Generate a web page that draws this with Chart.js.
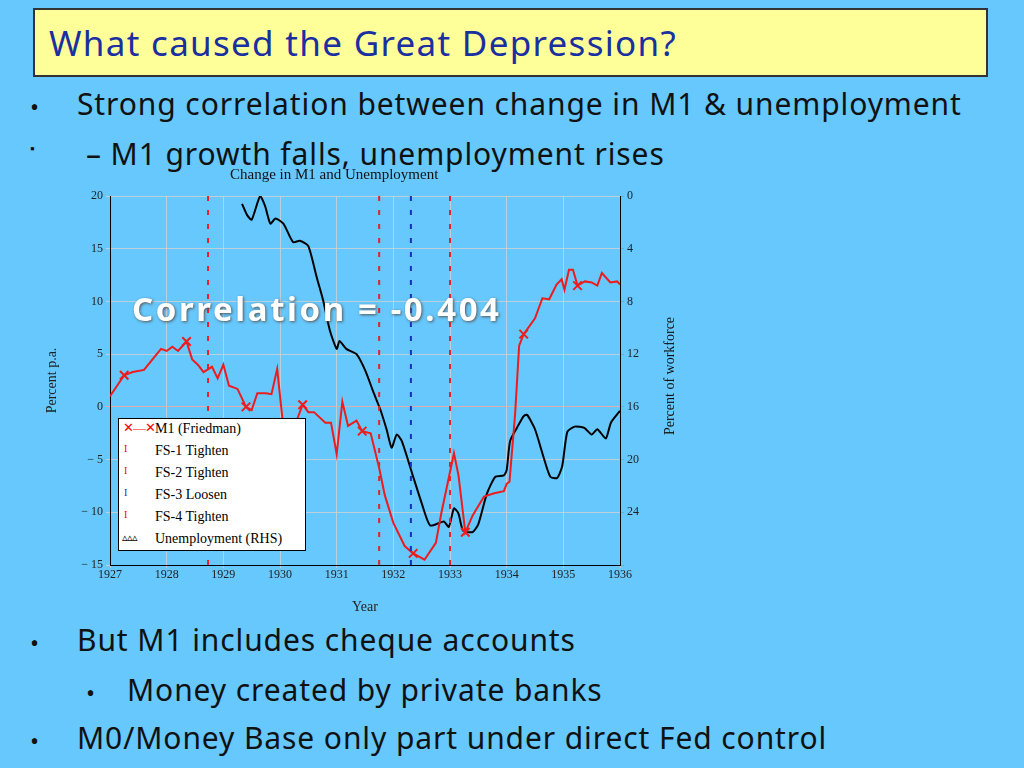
<!DOCTYPE html>
<html>
<head>
<meta charset="utf-8">
<script src="https://cdn.jsdelivr.net/npm/chart.js"></script>
<style>
body { margin:0; width:1024px; height:768px; background:#66c8fd; font-family:"Noto Sans", Lato, sans-serif; overflow:hidden; position:relative; }
.title { position:absolute; left:33px; top:8px; width:955px; height:69px; background:#ffff99; border:2px solid #333; box-sizing:border-box; }
.title span { position:absolute; left:14px; top:9px; font-size:35px; color:#1a2fa0; letter-spacing:1.3px; }
.t { position:absolute; color:#111; white-space:nowrap; font-size:30px; letter-spacing:0.9px; }
.b { position:absolute; color:#111; font-size:24px; }
#wrap { position:absolute; left:40px; top:165px; width:660px; height:455px; }
.legend { position:absolute; left:118px; top:418px; width:188px; height:133px; background:#fff; border:1px solid #000; font-family:"Liberation Serif", serif; font-size:14px; box-sizing:border-box; }
.legend div { position:absolute; left:36px; }
.corr { position:absolute; left:132px; top:286px; font-size:33px; color:#fff; font-weight:bold; letter-spacing:2.6px; text-shadow:1px 1px 3px #555; }
</style>
</head>
<body>
<div class="title"><span>What caused the Great Depression?</span></div>
<div class="b" style="left:30px;top:90px;">•</div>
<div class="t" style="left:77px;top:83px;">Strong correlation between change in M1 &amp; unemployment</div>
<div class="b" style="left:30px;top:140px;font-size:12px;">▪</div>
<div class="t" style="left:86px;top:133px;">– M1 growth falls, unemployment rises</div>
<div class="b" style="left:30px;top:626px;">•</div>
<div class="t" style="left:77px;top:619px;">But M1 includes cheque accounts</div>
<div class="b" style="left:86px;top:676px;">•</div>
<div class="t" style="left:127px;top:669px;">Money created by private banks</div>
<div class="b" style="left:30px;top:724px;">•</div>
<div class="t" style="left:77px;top:717px;">M0/Money Base only part under direct Fed control</div>
<div id="wrap"><canvas id="myChart" width="660" height="455"></canvas></div>
<div class="t" style="left:230px;top:166px;font-family:'Liberation Serif',serif;font-size:15px;letter-spacing:0;">Change in M1 and Unemployment</div>
<div class="t" style="left:600px;top:368px;width:140px;text-align:center;font-family:'Liberation Serif',serif;font-size:14px;letter-spacing:0;transform:rotate(-90deg);">Percent of workforce</div>
<div class="corr">Correlation = -0.404</div>
<div class="legend">
  <div style="top:2px">M1 (Friedman)</div>
  <div style="top:24px">FS-1 Tighten</div>
  <div style="top:46px">FS-2 Tighten</div>
  <div style="top:68px">FS-3 Loosen</div>
  <div style="top:90px">FS-4 Tighten</div>
  <div style="top:112px">Unemployment (RHS)</div>
  <span style="position:absolute;left:4px;top:1px;color:red;font-size:13px;letter-spacing:-1px">✕—✕</span>
  <span style="position:absolute;left:5px;top:24px;color:red;font-size:10px">I</span>
  <span style="position:absolute;left:5px;top:46px;color:red;font-size:10px">I</span>
  <span style="position:absolute;left:5px;top:68px;color:#22c;font-size:10px">I</span>
  <span style="position:absolute;left:5px;top:90px;color:red;font-size:10px">I</span>
  <span style="position:absolute;left:3px;top:112px;color:#000;font-size:11px;letter-spacing:-1px">▵▵▵</span>
</div>
<script>
var m1Years = [1927.0,1927.25,1927.4,1927.6,1927.75,1927.9,1928.0,1928.1,1928.2,1928.35,1928.45,1928.55,1928.65,1928.8,1928.9,1929.0,1929.1,1929.25,1929.4,1929.5,1929.6,1929.75,1929.85,1929.95,1930.05,1930.15,1930.3,1930.4,1930.5,1930.6,1930.8,1930.9,1931.0,1931.1,1931.2,1931.35,1931.45,1931.6,1931.75,1931.85,1932.0,1932.2,1932.35,1932.55,1932.75,1932.85,1933.07,1933.15,1933.27,1933.4,1933.6,1933.78,1933.95,1934.0,1934.05,1934.15,1934.22,1934.3,1934.5,1934.63,1934.75,1934.88,1934.97,1935.02,1935.1,1935.17,1935.25,1935.38,1935.5,1935.6,1935.68,1935.83,1935.95,1936.0];
var m1Values = [1,3,3.3,3.5,4.5,5.5,5.3,5.7,5.3,6.2,4.5,4,3.3,3.8,2.7,4,2,1.7,0,-0.3,1.3,1.3,1.2,3.6,-1.5,-1.3,-1.2,0.2,-0.5,-0.5,-1.5,-1.5,-4.5,0.5,-1.8,-1.3,-2.3,-2.5,-5.8,-8.4,-11,-13.2,-13.9,-14.5,-12.9,-10,-4.4,-6.5,-11.9,-10.3,-8.5,-8.2,-8,-7.3,-7.1,-0.6,5.8,6.9,8.4,10.3,10.2,11.6,12.1,11.1,13,13,11.5,11.9,11.8,11.5,12.7,11.8,11.9,11.6];
var m1MarkerYears = [1927.25,1928.35,1929.4,1930.4,1931.45,1932.35,1933.27,1934.3,1935.25];

var unempYears = [1929.33,1929.42,1929.5,1929.65,1929.74,1929.83,1929.92,1930.06,1930.23,1930.35,1930.5,1930.65,1930.76,1930.88,1931.0,1931.05,1931.17,1931.35,1931.5,1931.65,1931.77,1931.88,1931.97,1932.06,1932.15,1932.35,1932.5,1932.65,1932.89,1932.98,1933.07,1933.15,1933.23,1933.4,1933.5,1933.65,1933.8,1933.95,1934.0,1934.06,1934.18,1934.3,1934.36,1934.5,1934.65,1934.77,1934.89,1934.98,1935.07,1935.2,1935.37,1935.5,1935.6,1935.75,1935.84,1936.0];
var unempValues = [0.6,1.45,1.8,0,0.8,2.1,1.7,2.1,3.5,3.4,3.8,6.2,7.9,10.2,11.6,11.0,11.6,12,13.2,14.9,16.2,17.7,19.1,18.1,18.6,21.3,23.3,25,24.7,25.1,23.7,24.1,25.4,25.5,24.9,22.6,21.3,21.2,20.8,18.6,17.6,16.7,16.6,17.7,19.8,21.3,21.4,20.5,17.9,17.5,17.6,18.1,17.7,18.4,17.2,16.3];

var fsNames = ['FS-1 Tighten','FS-2 Tighten','FS-3 Loosen','FS-4 Tighten'];
var fsYears = [1928.73,1931.75,1932.31,1933.0];
var fsColors = ['#e8202a','#e8202a','#1a2fc0','#e8202a'];

function pts(xs, ys) { return xs.map(function (x, i) { return {x: x, y: ys[i]}; }); }
function sign(v) { return v < 0 ? '\u2212 ' + (-v) : String(v); }
var serif = {family: '"Liberation Serif", "Times New Roman", serif', size: 12};

var datasets = fsYears.map(function (yr, i) {
    return {
        label: fsNames[i], data: [{x: yr, y: -15}, {x: yr, y: 20}], yAxisID: 'y',
        borderColor: fsColors[i], borderWidth: 2, borderDash: [5, 9], pointRadius: 0
    };
});
datasets.push({
    label: 'M1 (Friedman)', data: pts(m1Years, m1Values), yAxisID: 'y',
    borderColor: '#ee1c1c', borderWidth: 2, tension: 0,
    pointStyle: 'crossRot', pointBorderColor: '#ee1c1c',
    pointRadius: function (c) { return m1MarkerYears.indexOf(m1Years[c.dataIndex]) >= 0 ? 6 : 0; }
});
datasets.push({
    label: 'Unemployment (RHS)', data: pts(unempYears, unempValues), yAxisID: 'y1',
    borderColor: '#000', borderWidth: 2, pointRadius: 0, tension: 0.2
});

var ctx = document.getElementById('myChart').getContext('2d');
var myChart = new Chart(ctx, {
    type: 'line',
    data: {datasets: datasets},
    options: {
        responsive: false, animation: false,
        layout: {padding: {top: 31, left: 0, right: 0, bottom: 0}},
        plugins: {legend: {display: false}, tooltip: {enabled: false}},
        scales: {
            x: {
                type: 'linear', min: 1927, max: 1936,
                ticks: {stepSize: 1, color: '#222', font: serif, padding: 0, callback: function (v) { return String(v); }},
                grid: {color: 'rgba(210,210,210,0.8)', tickLength: 3},
                border: {color: '#000'},
                title: {display: true, text: 'Year', color: '#222', font: {family: serif.family, size: 14}, padding: {top: 20}},
                afterFit: function (s) { s.height = 55; }
            },
            y: {
                min: -15, max: 20,
                ticks: {stepSize: 5, color: '#222', font: serif, callback: sign},
                grid: {color: function (c) { return c.tick.value === 0 ? 'rgba(235,170,170,0.9)' : 'rgba(210,210,210,0.8)'; }, tickLength: 4},
                border: {color: '#000'},
                title: {display: true, text: 'Percent p.a.', color: '#222', font: {family: serif.family, size: 14}},
                afterFit: function (s) { s.width = 70; }
            },
            y1: {
                position: 'right', min: 0, max: 28, reverse: true,
                ticks: {stepSize: 4, color: '#222', font: serif, callback: function (v) { return v === 28 ? '' : v; }},
                grid: {drawOnChartArea: false, tickLength: 4},
                border: {color: '#000'},
                afterFit: function (s) { s.width = 80; }
            }
        }
    }
});
</script>
</body>
</html>
